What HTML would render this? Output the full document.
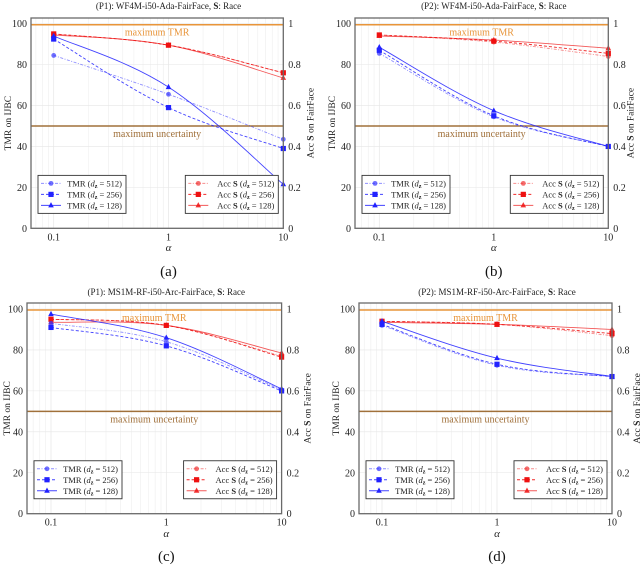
<!DOCTYPE html>
<html><head><meta charset="utf-8">
<style>
body{margin:0;background:#fff;}
svg text{font-family:"Liberation Serif",serif;}
</style></head>
<body>
<svg id="fig" width="640" height="567" viewBox="0 0 640 567" xmlns="http://www.w3.org/2000/svg"></svg>
<script>
// ---- data ----
const alphas = [0.1, 1, 10];
const panelTitles = ["(P1):  WF4M-i50-Ada-FairFace,  ", "(P2):  WF4M-i50-Ada-FairFace,  ", "(P1):  MS1M-RF-i50-Arc-FairFace,  ", "(P2):  MS1M-RF-i50-Arc-FairFace,  "];
const captions = ["(a)", "(b)", "(c)", "(d)"];
const yTicksLeft = [0, 20, 40, 60, 80, 100];
const yTicksRight = ["0", "0.2", "0.4", "0.6", "0.8", "1"];
const xTickLabels = ["0.1", "1", "10"];
const tmr512 = [[84.5, 65.5, 43.5], [85.5, 54.5, 40], [93, 84, 60.5], [92, 72.5, 67]];
const tmr256 = [[92.5, 59, 39], [87, 55, 40], [91, 82, 60], [92.5, 73, 67]];
const tmr128 = [[94, 69, 21.5], [88.5, 57.5, 40], [97.5, 86, 61], [94, 76, 67]];
const acc512 = [[0.95, 0.895, 0.76], [0.945, 0.91, 0.84], [0.95, 0.92, 0.77], [0.94, 0.925, 0.87]];
const acc256 = [[0.95, 0.895, 0.76], [0.945, 0.915, 0.855], [0.95, 0.92, 0.765], [0.94, 0.925, 0.88]];
const acc128 = [[0.945, 0.895, 0.735], [0.94, 0.92, 0.88], [0.935, 0.92, 0.785], [0.935, 0.925, 0.90]];
const maxTMR = 99.5;
const maxUnc = 50;

// ---- layout ----
const layouts = [
  {x01: 53.7, dec: 114.8, L: 31, T: 18, y100: 23.7, y0: 228.3, ty: 9, ay: 251, cy: 276, rt: 30},
  {x01: 379.3, dec: 114.5, L: 355, T: 18, y100: 23.7, y0: 228.3, ty: 9, ay: 251, cy: 276, rt: 25},
  {x01: 51, dec: 115.3, L: 27, T: 303, y100: 309, y0: 513.7, ty: 295, ay: 537, cy: 561, rt: 29},
  {x01: 382, dec: 115, L: 359, T: 303, y100: 309, y0: 513.7, ty: 295, ay: 537, cy: 561, rt: 28}
];
const NS = "http://www.w3.org/2000/svg";
const svg = document.getElementById("fig");
function el(tag, attrs, parent, txt) {
  const e = document.createElementNS(NS, tag);
  for (const k in attrs) e.setAttribute(k, attrs[k]);
  if (txt !== undefined) e.textContent = txt;
  (parent || svg).appendChild(e);
  return e;
}
function cardinal(pts) {
  const t = 0.55 / 3 * 2;
  let d = "M" + pts[0][0] + "," + pts[0][1];
  for (let i = 0; i < pts.length - 1; i++) {
    const p0 = pts[Math.max(0, i - 1)], p1 = pts[i], p2 = pts[i + 1], p3 = pts[Math.min(pts.length - 1, i + 2)];
    const c1 = [p1[0] + (p2[0] - p0[0]) * t / 2, p1[1] + (p2[1] - p0[1]) * t / 2];
    const c2 = [p2[0] - (p3[0] - p1[0]) * t / 2, p2[1] - (p3[1] - p1[1]) * t / 2];
    d += " C" + c1 + " " + c2 + " " + p2;
  }
  return d;
}
function marker(g, shape, x, y, color, op) {
  let m;
  if (shape === "circle") m = el("circle", {cx: x, cy: y, r: 2.4, fill: color, "fill-opacity": op}, g);
  else if (shape === "square") m = el("rect", {x: x - 2.6, y: y - 2.6, width: 5.2, height: 5.2, fill: color, "fill-opacity": op}, g);
  else m = el("polygon", {points: `${x},${y - 3.2} ${x - 2.8},${y + 2} ${x + 2.8},${y + 2}`, fill: color, "fill-opacity": op}, g);
  return m;
}

layouts.forEach((P, pi) => {
  const R = P.x01 + 2 * P.dec, B = P.y0;
  const xs = v => P.x01 + (Math.log10(v) + 1) * P.dec;
  const ys = v => P.y0 - (P.y0 - P.y100) * v / 100;
  const ya = v => ys(v * 100);
  const g = el("g", {});
  
  
  const cx = (P.L + R) / 2;
  const grid = el("g", {stroke: "#e6e6e6", "stroke-width": 0.5}, g);
  
  
  for (let dcd = -2; dcd <= 1; dcd++) for (let k = 1; k <= 9; k++) {
    const v = k * Math.pow(10, dcd), x = xs(v);
    if (x < P.L || x > R) continue;
    el("line", {x1: x, x2: x, y1: P.T, y2: B, "stroke-width": k === 1 ? 0.7 : 0.4}, grid);
  }
  yTicksLeft.forEach(v => el("line", {x1: P.L, x2: R, y1: ys(v), y2: ys(v), "stroke-width": 0.6}, grid));
  const l1 = el("line", {x1: P.L, x2: R, y1: ys(maxTMR), y2: ys(maxTMR), stroke: "#e8953a", "stroke-width": 1.5}, g);
  
  
  const t1 = el("text", {x: cx, y: ys(maxTMR) + 11, "text-anchor": "middle", "font-size": 10, fill: "#e8953a"}, g, "maximum TMR");
  
  
  const l2 = el("line", {x1: P.L, x2: R, y1: ys(maxUnc), y2: ys(maxUnc), stroke: "#a0703a", "stroke-width": 1.5}, g);
  
  
  const t2 = el("text", {x: cx, y: ys(maxUnc) + 11, "text-anchor": "middle", "font-size": 10, fill: "#a0703a"}, g, "maximum uncertainty");
  
  
  const series = [
    {d: acc512[pi], sc: ya, c: "#f03030", op: 0.55, dash: "3,1.5,1,1.5", m: "circle", name: "acc-512"},
    {d: acc256[pi], sc: ya, c: "#ee1111", op: 0.9, dash: "3,2", m: "square", name: "acc-256"},
    {d: acc128[pi], sc: ya, c: "#ee1111", op: 0.7, dash: "", m: "triangle", name: "acc-128"},
    {d: tmr512[pi], sc: ys, c: "#3333ff", op: 0.55, dash: "3,1.5,1,1.5", m: "circle", name: "tmr-512"},
    {d: tmr256[pi], sc: ys, c: "#2222ff", op: 0.85, dash: "3,2", m: "square", name: "tmr-256"},
    {d: tmr128[pi], sc: ys, c: "#2222ff", op: 0.85, dash: "", m: "triangle", name: "tmr-128"}
  ];
  series.forEach(s => {
    const pts = alphas.map((a, i) => [xs(a), s.sc(s.d[i])]);
    const sg = el("g", {}, g);
    
    
    const p = el("path", {d: cardinal(pts), fill: "none", stroke: s.c, "stroke-opacity": s.op, "stroke-width": 0.9, "stroke-dasharray": s.dash}, sg);
    
    
    pts.forEach(pt => {
      const m = marker(sg, s.m, pt[0], pt[1], s.c, Math.min(1, s.op + 0.15));
      
      
    });
  });
  const fr = el("rect", {x: P.L, y: P.T, width: R - P.L, height: B - P.T, fill: "none", stroke: "#6a6a6a", "stroke-width": 1.3}, g);
  
  
  yTicksLeft.forEach((v, i) => {
    const t = el("text", {x: P.L - 4, y: ys(v) + 3.5, "text-anchor": "end", "font-size": 10, fill: "#222"}, g, String(v));
    
    
    const t2 = el("text", {x: R + 5, y: ys(v) + 3.5, "text-anchor": "start", "font-size": 10, fill: "#222"}, g, yTicksRight[i]);
    
    
  });
  alphas.forEach((a, i) => {
    const t = el("text", {x: xs(a), y: B + 12, "text-anchor": "middle", "font-size": 10, fill: "#222"}, g, xTickLabels[i]);
    
    
  });
  const yl = el("text", {x: 0, y: 0, transform: `translate(${Math.max(P.L - 20, 10)},${(P.T + B) / 2}) rotate(-90)`, "text-anchor": "middle", "font-size": 9.5, fill: "#222"}, g, "TMR on IJBC");
  
  
  const yr = el("text", {x: 0, y: 0, transform: `translate(${R + P.rt},${(P.T + B) / 2}) rotate(-90)`, "text-anchor": "middle", "font-size": 9.5, fill: "#222"}, g);
  
  
  yr.innerHTML = 'Acc <tspan font-weight="bold">S</tspan> on FairFace';
  const xl = el("text", {x: xs(1), y: P.ay, "text-anchor": "middle", "font-size": 11, "font-style": "italic", fill: "#222"}, g, "α");
  
  
  const tt = el("text", {x: xs(1), y: P.ty, "text-anchor": "middle", "font-size": 9, fill: "#222"}, g);
  
  
  tt.innerHTML = panelTitles[pi] + '<tspan font-weight="bold">S</tspan>: Race';
  const cap = el("text", {x: xs(1), y: P.cy, "text-anchor": "middle", "font-size": 15, fill: "#111"}, g, captions[pi]);
  
  
  function legend(x, w, items, label, name) {
    const lg = el("g", {}, g);
    
    
    const top = ys(20) - 12, h = 38;
    el("rect", {x: x, y: top, width: w, height: h, fill: "#fff", stroke: "#333", "stroke-width": 0.9}, lg);
    items.forEach((s, i) => {
      const yy = top + 8 + i * 11;
      el("line", {x1: x + 3, x2: x + 23, y1: yy, y2: yy, stroke: s.c, "stroke-opacity": s.op, "stroke-width": 0.9, "stroke-dasharray": s.dash}, lg);
      marker(lg, s.m, x + 13, yy, s.c, Math.min(1, s.op + 0.15));
      const t = el("text", {x: x + w - 4, y: yy + 3, "text-anchor": "end", "font-size": 8.5, fill: "#222"}, lg);
      const d = [512, 256, 128][i];
      t.innerHTML = label + ' (<tspan font-style="italic">d</tspan><tspan font-size="6" dy="1.5" font-weight="bold">z</tspan><tspan dy="-1.5"> = ' + d + ')</tspan>';
    });
  }
  legend(P.L + 7, 88, series.slice(3), "TMR", "legend-tmr");
  legend(R - 98, 93, series.slice(0, 3), 'Acc <tspan font-weight="bold">S</tspan>', "legend-acc");
});
</script>
</body></html>
